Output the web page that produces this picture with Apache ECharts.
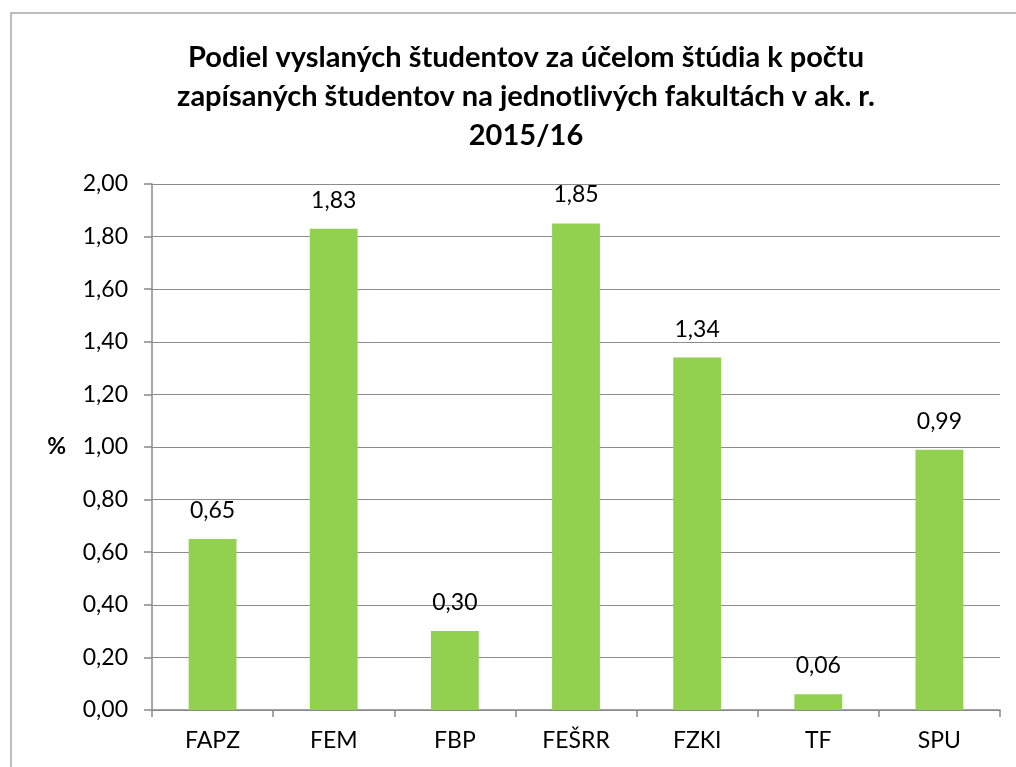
<!DOCTYPE html>
<html>
<head>
<meta charset="utf-8">
<script src="https://cdn.jsdelivr.net/npm/echarts@6/dist/echarts.min.js"></script>
<style>
  html, body { margin: 0; padding: 0; background: #fff; }
  #chart { width: 1016px; height: 767px; }
</style>
</head>
<body>
<div id="chart"></div>
<script>
const categories = ['FAPZ', 'FEM', 'FBP', 'FEŠRR', 'FZKI', 'TF', 'SPU'];
const values = [0.65, 1.83, 0.30, 1.85, 1.34, 0.06, 0.99];
const titleText = 'Podiel vyslaných študentov za účelom štúdia k počtu\nzapísaných študentov na jednotlivých fakultách v ak. r.\n2015/16';

const fmt = (v) => v.toFixed(2).replace('.', ',');

const chart = echarts.init(document.getElementById('chart'));
chart.setOption({
  backgroundColor: '#fff',
  textStyle: { fontFamily: 'Lato' },
  graphic: [{
    type: 'rect',
    shape: { x: 11, y: 13, width: 1020, height: 780 },
    style: { fill: 'none', stroke: '#a6a6a6', lineWidth: 1.5 },
    silent: true
  }],
  title: {
    text: titleText,
    left: 521,
    top: 33,
    textAlign: 'center',
    textStyle: {
      fontSize: 29,
      fontWeight: 'bold',
      color: '#000',
      lineHeight: 39,
      fontFamily: 'Lato'
    }
  },
  grid: { left: 152, right: 16, top: 184, bottom: 57, containLabel: false },
  xAxis: {
    type: 'category',
    data: categories,
    axisLine: { lineStyle: { color: '#888', width: 1.5 } },
    axisTick: { show: true, length: 7, lineStyle: { color: '#888', width: 1.5 } },
    axisLabel: { color: '#000', fontSize: 23, margin: 19 }
  },
  yAxis: {
    type: 'value',
    min: 0,
    max: 2,
    interval: 0.2,
    name: '%',
    nameLocation: 'middle',
    nameGap: 86,
    nameRotate: 0,
    nameTextStyle: { color: '#000', fontSize: 23, fontWeight: 'bold' },
    axisLine: { show: true, lineStyle: { color: '#888', width: 1.5 } },
    axisTick: { show: true, length: 8, lineStyle: { color: '#888', width: 1.5 } },
    axisLabel: { color: '#000', fontSize: 23, margin: 24, formatter: fmt },
    splitLine: { lineStyle: { color: '#8c8c8c', width: 1.2 } }
  },
  series: [{
    type: 'bar',
    data: values,
    barWidth: '39.5%',
    itemStyle: { color: '#92d050' },
    label: {
      show: true,
      position: 'top',
      distance: 17,
      color: '#000',
      fontSize: 23,
      formatter: (p) => fmt(p.value)
    }
  }]
});
</script>
</body>
</html>
